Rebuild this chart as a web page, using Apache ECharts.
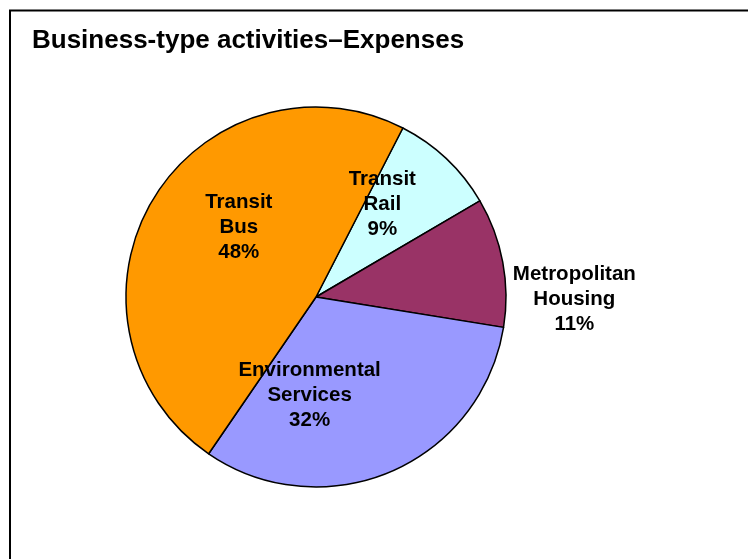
<!DOCTYPE html>
<html>
<head>
<meta charset="utf-8">
<script src="https://cdn.jsdelivr.net/npm/echarts@6/dist/echarts.min.js"></script>
<style>
html,body{margin:0;padding:0;background:#fff;}
#chart{width:748px;height:559px;}
</style>
</head>
<body>
<div id="chart"></div>
<script>
var categories = ['Transit Rail', 'Metropolitan Housing', 'Environmental Services', 'Transit Bus'];
var percentValues = [9, 11, 32, 48];
var sliceColors = ['#CCFFFF', '#993366', '#9999FF', '#FF9900'];
var labelShift = [[-1, -21], [162, 20], [-45, 8], [7, -19]];

var chart = echarts.init(document.getElementById('chart'));
var data = categories.map(function (c, i) {
  return { name: c, value: percentValues[i], itemStyle: { color: sliceColors[i] } };
});
chart.setOption({
  animation: false,
  title: {
    text: 'Business-type activities\u2013Expenses',
    left: 32, top: 28,
    padding: 0,
    textStyle: { fontFamily: 'Liberation Sans, Arial, sans-serif', fontWeight: 'bold', fontSize: 26, color: '#000' }
  },
  graphic: [{
    type: 'rect', silent: true,
    shape: { x: 10, y: 10.5, width: 800, height: 600 },
    style: { fill: 'none', stroke: '#000', lineWidth: 2 }
  }],
  series: [{
    type: 'pie',
    center: [316, 297],
    radius: 190,
    startAngle: 62.8,
    clockwise: true,
    avoidLabelOverlap: false,
    data: data,
    itemStyle: { borderColor: '#000', borderWidth: 1.5 },
    label: {
      show: true,
      position: 'inside',
      fontFamily: 'Liberation Sans, Arial, sans-serif',
      fontWeight: 'bold',
      fontSize: 20.5,
      lineHeight: 25,
      color: '#000',
      align: 'center',
      formatter: function (p) {
        return p.name.replace(' ', '\n') + '\n' + Math.round(p.percent) + '%';
      }
    },
    labelLine: { show: false },
    labelLayout: function (p) {
      var s = labelShift[p.dataIndex];
      return { dx: s[0], dy: s[1] };
    },
    emphasis: { disabled: true }
  }]
});
</script>
</body>
</html>
